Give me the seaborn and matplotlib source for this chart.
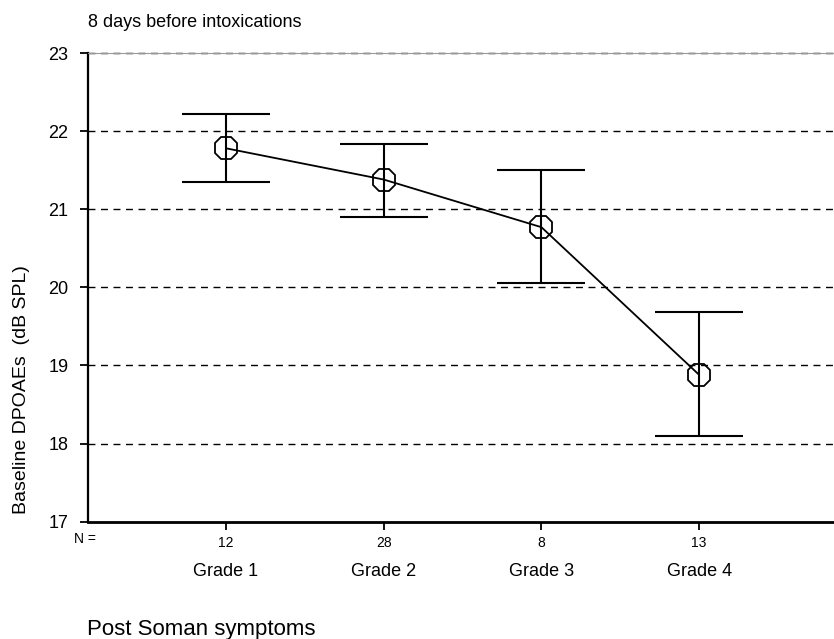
### Packages
import numpy as np
import matplotlib
matplotlib.use('Agg')
import matplotlib.pyplot as plt
import seaborn as sns
import pandas as pd

sns.set_theme(style='white')
plt.rcParams['font.family'] = ['Liberation Sans', 'DejaVu Sans']
plt.rcParams['text.color'] = 'black'

### Data
grades = ['Grade 1', 'Grade 2', 'Grade 3', 'Grade 4']
counts = [12, 28, 8, 13]
means = [21.78, 21.38, 20.77, 18.88]
lows = [21.35, 20.90, 20.06, 18.10]
highs = [22.22, 21.84, 21.50, 19.68]
yticks = [17, 18, 19, 20, 21, 22, 23]

df = pd.DataFrame({'grade': grades, 'n': counts, 'mean': means, 'low': lows, 'high': highs})

### Figure
fig = plt.figure(figsize=(8.34, 6.39), dpi=100)
ax = fig.add_axes([88 / 834, 1 - 521.7 / 639, 1 - 88 / 834, (521.7 - 53) / 639])

# dashed reference lines
for v in yticks[1:]:
    ax.axhline(v, color='black', lw=1.0, ls=(0, (5, 4)), zorder=1, clip_on=False)

# error bars (SPSS style, wide caps)
ax.errorbar(df['grade'], df['mean'],
            yerr=[df['mean'] - df['low'], df['high'] - df['mean']],
            fmt='none', ecolor='black', elinewidth=1.5, capsize=32, capthick=1.5, zorder=3)

# mean line with open octagon markers
sns.lineplot(data=df, x='grade', y='mean', sort=False, ax=ax, color='black', lw=1.3,
             marker='8', markersize=17, markerfacecolor='none', markeredgecolor='black',
             markeredgewidth=1.3, zorder=4)

ax.set_xlim(-0.875, 3.855)
ax.set_ylim(17, 23)
ax.set_yticks(yticks)
ax.set_yticklabels([str(t) for t in yticks], fontsize=13)
ax.set_xticks(range(len(grades)))
ax.set_xticklabels([str(c) for c in counts], fontsize=10)
ax.tick_params(axis='both', which='major', direction='out', length=6, width=1.3,
               color='black', labelcolor='black', bottom=True, left=True)
ax.tick_params(axis='x', pad=4)
ax.tick_params(axis='y', pad=8)
ax.set_xlabel('')
ax.set_ylabel('')

for side in ['left', 'bottom']:
    ax.spines[side].set_color('black')
ax.spines['left'].set_linewidth(1.6)
ax.spines['bottom'].set_linewidth(2.0)
ax.spines['right'].set_visible(False)
ax.spines['top'].set_color('#999999')
ax.spines['top'].set_linewidth(0.8)

# category names under the counts
for i, g in enumerate(grades):
    ax.text(i, -0.115, g, transform=ax.get_xaxis_transform(), ha='center', va='baseline',
            fontsize=13, color='black')

fig.text(84.5 / 834, 1 - 543 / 639, 'N =', ha='center', va='baseline', fontsize=10, color='black')
fig.text(88 / 834, 1 - 27 / 639, '8 days before intoxications', ha='left', va='baseline',
         fontsize=13, color='black')
fig.text(87 / 834, 1 - 635 / 639, 'Post Soman symptoms', ha='left', va='baseline',
         fontsize=16, color='black')
fig.text(22 / 834, 1 - 390 / 639, 'Baseline DPOAEs  (dB SPL)', rotation=90, ha='center',
         va='center', fontsize=14, color='black')

fig.savefig('out.png', dpi=100)
